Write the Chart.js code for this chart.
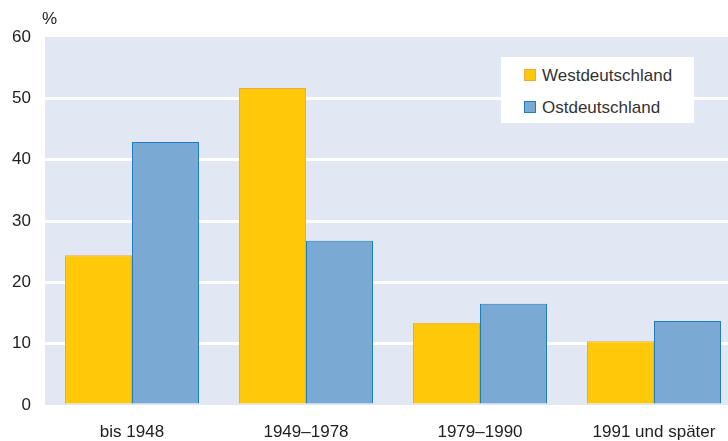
<!DOCTYPE html>
<html>
<head>
<meta charset="utf-8">
<script src="https://cdn.jsdelivr.net/npm/chart.js@4/dist/chart.umd.min.js"></script>
<style>
  body { margin: 0; width: 728px; height: 441px; overflow: hidden; background: #fff; font-family: 'Liberation Sans', Arial, sans-serif; }
  #wrap { position: relative; width: 741px; height: 441px; }
  #unit { position: absolute; left: 42px; top: 9px; font-size: 17px; color: #222; }
  #legend { position: absolute; left: 501px; top: 57px; width: 193px; height: 66px; background: #fff; }
  .item { position: absolute; left: 23px; font-size: 17px; color: #333; line-height: 19px; }
  .item span { display: inline-block; width: 10px; height: 10px; margin-right: 6px; vertical-align: 0px; border: 1px solid; }
</style>
</head>
<body>
<div id="wrap">
  <canvas id="chart" width="741" height="441"></canvas>
  <div id="unit">%</div>
  <div id="legend"></div>
</div>
<script>
// ===========================
// DATA
// ===========================
const categories = ['bis 1948', '1949–1978', '1979–1990', '1991 und später'];
const seriesNames = ['Westdeutschland', 'Ostdeutschland'];
const westValues = [24.4, 51.7, 13.4, 10.4];
const eastValues = [42.9, 26.8, 16.5, 13.7];
const yTicks = [0, 10, 20, 30, 40, 50, 60];

const fills = ['#ffc90a', '#7aaad4'];
const borders = ['#f2a93b', '#1f7cc2'];

// plot background
const plotBg = {
  id: 'plotBg',
  beforeDraw(chart) {
    const { ctx, chartArea: a } = chart;
    ctx.save();
    ctx.fillStyle = '#e1e8f3';
    ctx.fillRect(a.left, a.top, a.right - a.left, a.bottom - a.top);
    ctx.restore();
  }
};

const ctx = document.getElementById('chart').getContext('2d');
new Chart(ctx, {
  type: 'bar',
  data: {
    labels: categories,
    datasets: [westValues, eastValues].map((vals, i) => ({
      label: seriesNames[i],
      data: vals,
      backgroundColor: fills[i],
      borderColor: borders[i],
      borderWidth: 1,
      barPercentage: 1,
      categoryPercentage: 0.77
    }))
  },
  options: {
    responsive: false,
    animation: false,
    layout: { padding: { top: 37, right: 0, left: 0, bottom: 0 } },
    plugins: { legend: { display: false }, tooltip: { enabled: false } },
    scales: {
      x: {
        grid: { display: false, drawTicks: false },
        border: { display: false },
        ticks: { color: '#222', font: { size: 17, family: 'Liberation Sans' }, padding: 17, maxRotation: 0 },
        afterFit: s => { s.height = 36; }
      },
      y: {
        min: 0,
        max: 60,
        afterBuildTicks: s => { s.ticks = yTicks.map(v => ({ value: v })); },
        grid: {
          color: c => (c.tick.value === 0 || c.tick.value === 60) ? 'rgba(0,0,0,0)' : '#ffffff',
          lineWidth: 3,
          drawTicks: false
        },
        border: { display: false },
        ticks: { color: '#222', font: { size: 17, family: 'Liberation Sans' }, padding: 14 },
        afterFit: s => { s.width = 45; }
      }
    }
  },
  plugins: [plotBg]
});

// legend as html text
const legend = document.getElementById('legend');
seriesNames.forEach((name, i) => {
  const d = document.createElement('div');
  d.className = 'item';
  d.style.top = (i === 0 ? 9 : 41) + 'px';
  d.innerHTML = `<span style="background:${fills[i]};border-color:${borders[i]}"></span>${name}`;
  legend.appendChild(d);
});
</script>
</body>
</html>
